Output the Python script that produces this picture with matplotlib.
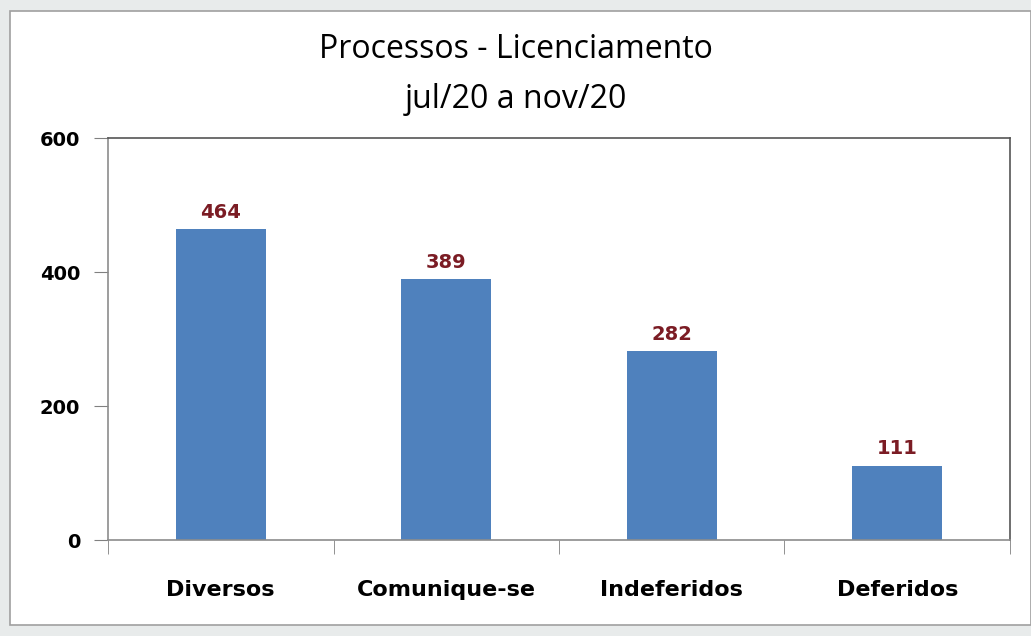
import matplotlib.pyplot as plt
from matplotlib.patches import Rectangle

categorias = ["Diversos", "Comunique-se", "Indeferidos", "Deferidos"]
valores = [464, 389, 282, 111]
y_ticks = [0, 200, 400, 600]

fonte_titulo = "Open Sans"
fonte = "DejaVu Sans"

fig = plt.figure(figsize=(10.31, 6.36), dpi=100)
fig.patch.set_facecolor("#e8ebeb")

# white chart area with thin border
fundo = Rectangle((10 / 1031, 11 / 636), 1021 / 1031, 614 / 636,
                  transform=fig.transFigure, facecolor="white",
                  edgecolor="#a0a0a0", linewidth=1.2, zorder=-5)
fig.add_artist(fundo)

ax = fig.add_axes([108 / 1031, (636 - 540) / 636, 902 / 1031, 402 / 636])
ax.set_facecolor("white")

x = list(range(len(categorias)))
ax.bar(x, valores, width=0.4, color="#4f81bd")
for xi, v in zip(x, valores):
    ax.text(xi, v + 11, str(v), ha="center", va="bottom", fontsize=14,
            fontweight="bold", color="#7b1c24", family=fonte)

ax.set_xlim(-0.5, len(categorias) - 0.5)
ax.set_ylim(0, 600)
ax.set_yticks(y_ticks)
ax.set_yticklabels([str(t) for t in y_ticks], fontsize=14, fontweight="bold",
                   family=fonte)
ax.set_xticks(x)
ax.set_xticklabels(categorias, fontsize=16, fontweight="bold", family=fonte)
ax.set_xticks([i - 0.5 for i in range(len(categorias) + 1)], minor=True)
ax.tick_params(axis="x", which="major", length=0, pad=29)
ax.tick_params(axis="x", which="minor", length=10, color="#808080")
ax.tick_params(axis="y", length=10, color="#808080", pad=10)

for s in ["left", "bottom"]:
    ax.spines[s].set_color("#8c8c8c")
for s in ["top", "right"]:
    ax.spines[s].set_color("#555555")
for s in ax.spines.values():
    s.set_linewidth(1.2)

fig.text(0.5, 1 - 50 / 636, "Processos - Licenciamento", ha="center", va="center",
         fontsize=23, family=fonte_titulo, fontweight="medium")
fig.text(0.5, 1 - 99 / 636, "jul/20 a nov/20", ha="center", va="center",
         fontsize=23, family=fonte_titulo, fontweight="medium")

fig.savefig("out.png", dpi=100, facecolor=fig.get_facecolor())
